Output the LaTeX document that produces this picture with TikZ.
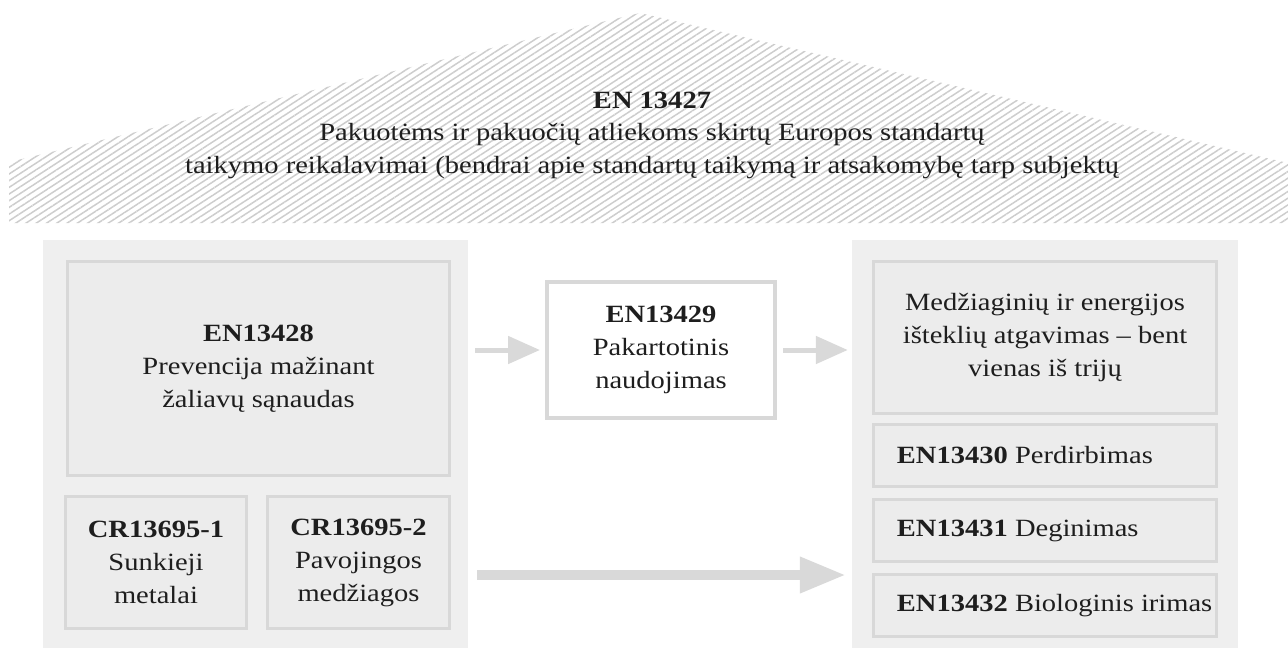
\documentclass[tikz,border=0pt]{standalone}
\usepackage{fontspec}
\setmainfont{Liberation Serif}[FakeStretch=1.15]
\usetikzlibrary{arrows.meta,patterns.meta,calc}
\definecolor{panel}{HTML}{EFEFEF}
\definecolor{boxfill}{HTML}{ECECEC}
\definecolor{boxline}{HTML}{D8D8D8}
\definecolor{arrowc}{HTML}{D9D9D9}
\definecolor{hatchc}{HTML}{CDCDCD}
\definecolor{ink}{HTML}{1E1E1E}
\begin{document}
\begin{tikzpicture}[x=1pt,y=-1pt,
  panelbox/.style={fill=panel,draw=none,inner sep=0pt},
  stdbox/.style={fill=boxfill,draw=boxline,line width=3.5pt,inner sep=0pt},
  midbox/.style={fill=white,draw=boxline,line width=4pt,inner sep=0pt},
  boxtext/.style={text=ink,font=\fontsize{24.8}{33}\selectfont,align=center},
  rowtext/.style={text=ink,font=\fontsize{24.8}{33}\selectfont,inner sep=0pt,anchor=west},
  titletext/.style={text=ink,font=\fontsize{24.8}{32.5}\selectfont,align=center,inner sep=0pt},
  thinarrow/.style={draw=arrowc,line width=5pt,-{Triangle[length=32pt,width=27pt]}},
  thickarrow/.style={draw=arrowc,line width=10pt,-{Triangle[length=46pt,width=34pt]}}
]
\useasboundingbox (0,0) rectangle (1288,654);
% roof
\fill[pattern={Lines[angle=33,distance=5.6pt,line width=1.5pt]},pattern color=hatchc]
  (9,223) -- (9,162) -- (640,13) -- (1288,163) -- (1288,223) -- cycle;
\node[titletext] (title) at (652,135) {\textbf{EN 13427}\\
  Pakuotėms ir pakuočių atliekoms skirtų Europos standartų\\
  taikymo reikalavimai (bendrai apie standartų taikymą ir atsakomybę tarp subjektų};
% panels
\node[panelbox,minimum width=425pt,minimum height=408pt] (lp) at (255.5,444) {};
\node[panelbox,minimum width=386pt,minimum height=408pt] (rp) at (1045,444) {};
% left boxes
\node[stdbox,boxtext,minimum width=382pt,minimum height=214pt] (en28) at (258.5,368.5)
  {\textbf{EN13428}\\Prevencija mažinant\\žaliavų sąnaudas};
\node[stdbox,boxtext,minimum width=181pt,minimum height=132pt] (cr1) at (156,562.5)
  {\textbf{CR13695-1}\\Sunkieji\\metalai};
\node[stdbox,boxtext,minimum width=182pt,minimum height=132pt] (cr2) at (358.5,562.5)
  {\textbf{CR13695-2}\\Pavojingos\\medžiagos};
% middle box
\node[midbox,boxtext,minimum width=228pt,minimum height=136pt] (mid) at (661,350)
  {\textbf{EN13429}\\Pakartotinis\\naudojimas};
% right boxes
\node[stdbox,boxtext,minimum width=343pt,minimum height=152pt] (rec) at (1045,337.5)
  {Medžiaginių ir energijos\\išteklių atgavimas – bent\\vienas iš trijų};
\node[stdbox,minimum width=343pt,minimum height=62pt] (en30) at (1045,455.5) {};
\node[stdbox,minimum width=343pt,minimum height=62pt] (en31) at (1045,530.5) {};
\node[stdbox,minimum width=343pt,minimum height=62pt] (en32) at (1045,605.5) {};
\node[rowtext] (en30t) at ($(en30.west)+(25,0)$) {\textbf{EN13430} Perdirbimas};
\node[rowtext] (en31t) at ($(en31.west)+(25,0)$) {\textbf{EN13431} Deginimas};
\node[rowtext] (en32t) at ($(en32.west)+(25,0)$) {\textbf{EN13432} Biologinis irimas};
% arrows
\coordinate (lowarrow) at (0,575);
\draw[thinarrow,shorten <=7pt,shorten >=5pt] (lp.east |- mid.west) -- (mid.west);
\draw[thinarrow,shorten <=6pt,shorten >=4pt] (mid.east) -- (mid.east -| rp.west);
\draw[thickarrow,shorten <=9pt,shorten >=6pt] (lp.east |- lowarrow) -- (rp.west |- lowarrow);
\end{tikzpicture}
\end{document}
